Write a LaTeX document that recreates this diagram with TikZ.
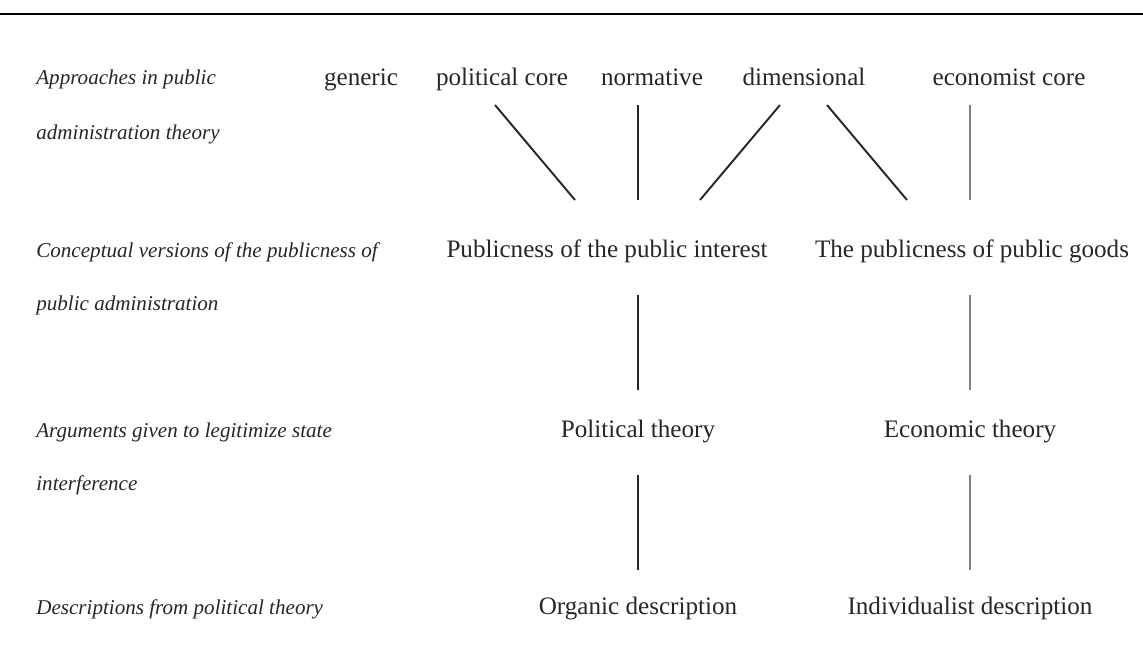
\documentclass[tikz,border=0pt]{standalone}
\usepackage{fontspec}
\setmainfont{Liberation Serif}
\begin{document}
\begin{tikzpicture}[x=0.02cm,y=-0.02cm,
  every node/.style={inner sep=0pt,anchor=base,text=black!85,font=\fontsize{14.3}{16}\selectfont},
  rowlabel/.style={anchor=base west,font=\fontsize{12}{14}\selectfont\itshape},
  link/.style={line width=1.1pt,black!85},
  greylink/.style={line width=1.1pt,black!50}]
\useasboundingbox (0,0) rectangle (1143,652);
%\draw[help lines, step=50] (0,0) grid (1143,652);
\draw[line width=0.6pt] (0,14) -- (1143,14);

% row labels
\node[rowlabel](l1a) at (36,85) {Approaches in public};
\node[rowlabel](l1b) at (36,139) {administration theory};
\node[rowlabel](l2a) at (36,257) {Conceptual versions of the publicness of};
\node[rowlabel](l2b) at (36,310) {public administration};
\node[rowlabel](l3a) at (36,437) {Arguments given to legitimize state};
\node[rowlabel](l3b) at (36,490) {interference};
\node[rowlabel](l4a) at (36,614) {Descriptions from political theory};

% approaches
\node(generic) at (361,86) {generic};
\node(polcore) at (502,86) {political core};
\node(normative) at (652,86) {normative};
\node(dimensional) at (804,86) {dimensional};
\node(ecocore) at (1009,86) {economist core};

% versions, arguments, descriptions
\node(pubint) at (607,257) {Publicness of the public interest};
\node(pubgoods) at (972,257) {The publicness of public goods};
\node(poltheory) at (638,437) {Political theory};
\node(ecotheory) at (970,437) {Economic theory};
\node(organic) at (638,614) {Organic description};
\node(individ) at (970,614) {Individualist description};

% line ends
\coordinate(pc1) at (495,105);
\coordinate(pc2) at (575,200);
\coordinate(nm1) at (638,105);
\coordinate(nm2) at (638,200);
\coordinate(dm1) at (780,105);
\coordinate(dm2) at (700,200);
\coordinate(dm3) at (827,105);
\coordinate(dm4) at (907,200);
\coordinate(ec1) at (970,105);
\coordinate(ec2) at (970,200);
\coordinate(pi1) at (638,295);
\coordinate(pi2) at (638,390);
\coordinate(pg1) at (970,295);
\coordinate(pg2) at (970,390);
\coordinate(pt1) at (638,475);
\coordinate(pt2) at (638,570);
\coordinate(et1) at (970,475);
\coordinate(et2) at (970,570);

\draw[link](pc1)--(pc2);
\draw[link](nm1)--(nm2);
\draw[link](dm1)--(dm2);
\draw[link](dm3)--(dm4);
\draw[greylink](ec1)--(ec2);
\draw[link](pi1)--(pi2);
\draw[greylink](pg1)--(pg2);
\draw[link](pt1)--(pt2);
\draw[greylink](et1)--(et2);
\end{tikzpicture}
\end{document}
